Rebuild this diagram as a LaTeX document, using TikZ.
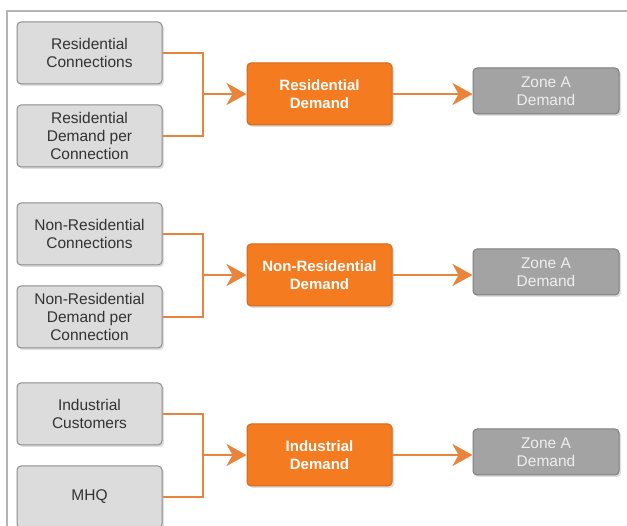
\documentclass[tikz,border=0pt]{standalone}
\usepackage{fontspec}
\setmainfont{Liberation Sans}
\usetikzlibrary{arrows.meta,shadows,calc}
\definecolor{inbox}{HTML}{DCDCDC}
\definecolor{inedge}{HTML}{8C8C8C}
\definecolor{intext}{HTML}{333333}
\definecolor{orfill}{HTML}{F47B20}
\definecolor{oredge}{HTML}{D2691C}
\definecolor{zofill}{HTML}{A3A3A3}
\definecolor{zoedge}{HTML}{7E7E7E}
\definecolor{zotext}{HTML}{EEEEEE}
\definecolor{link}{HTML}{E8843C}
\definecolor{frame}{HTML}{B4B4B4}
\tikzset{
  basebox/.style={rounded corners=4pt, line width=1pt, align=center,
    inner sep=0pt, drop shadow={shadow xshift=2pt, shadow yshift=-2pt, opacity=0.25}},
  inputbox/.style={basebox, fill=inbox, draw=inedge, text=intext,
    minimum width=145pt, minimum height=62pt,
    font=\fontsize{15.5}{18}\selectfont},
  demandbox/.style={basebox, fill=orfill, draw=oredge, text=white,
    minimum width=145pt, minimum height=62pt,
    font=\fontsize{15}{18}\selectfont\bfseries},
  zonebox/.style={basebox, fill=zofill, draw=zoedge, text=zotext,
    minimum width=146pt, minimum height=46pt,
    font=\fontsize{15.5}{18}\selectfont},
  link/.style={draw=link, line width=2.5pt, line join=miter},
  flow/.style={link, -{Stealth[length=20pt, width=22pt, inset=6pt]}}
}
\begin{document}
\begin{tikzpicture}[x=1pt, y=-1pt]
  \useasboundingbox (0,0) rectangle (627,526);
  \clip (0,0) rectangle (627,526);
  % outer frame (top and left edges)
  \draw[frame, line width=2pt] (7,530) -- (7,11) -- (630,11);

  % one row group per customer class
  \foreach \g/\ya/\yb/\dem/\tag in {
      0/{Residential\\Connections}/{Residential\\Demand per\\Connection}/{Residential\\Demand}/r,
      181/{Non-Residential\\Connections}/{Non-Residential\\Demand per\\Connection}/{Non-Residential\\Demand}/n,
      361/{Industrial\\Customers}/{MHQ}/{Industrial\\Demand}/i} {
    \node[inputbox]  (in1\tag) at (89.5, 22+\g+31)  {\ya};
    \node[inputbox]  (in2\tag) at (89.5, 22+\g+114) {\yb};
    \node[demandbox] (dem\tag) at (319.5, 22+\g+72) {\dem};
    \node[zonebox]   (zone\tag) at (546, 22+\g+69) {Zone A\\Demand};
    \coordinate (join\tag) at (203, 22+\g+72);
    \draw[link] (in1\tag.east) -| (join\tag) |- (in2\tag.east);
    \draw[flow] (join\tag) -- (dem\tag.west);
    \draw[flow] (dem\tag.east) -- (dem\tag.east -| zone\tag.west);
  }
\end{tikzpicture}
\end{document}
